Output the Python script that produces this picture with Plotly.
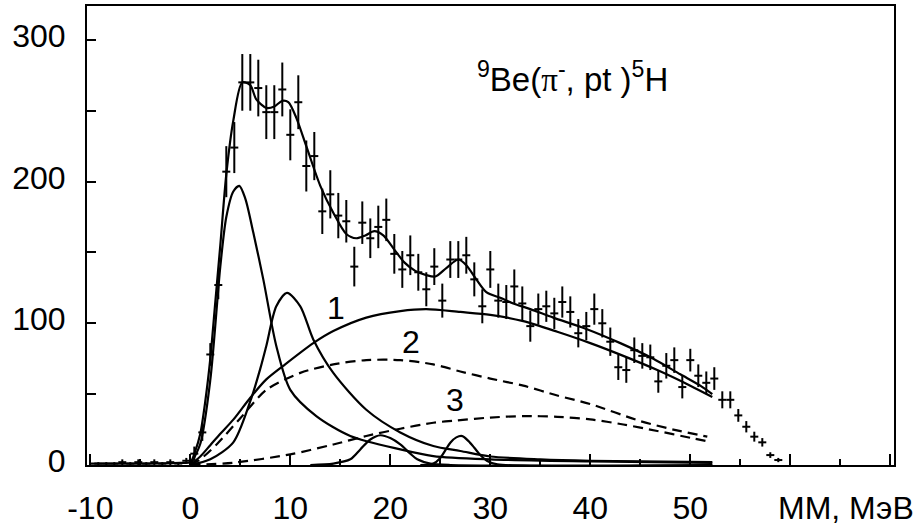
import plotly.graph_objects as go

# ---- measured data (bins of 0.8 MeV) ----
mm_bins = [-9.2, -8.4, -7.6, -6.8, -6.0, -5.2, -4.4, -3.6, -2.8, -2.0, -1.2, -0.4,
           0.4, 1.2, 2.0, 2.8, 3.6, 4.4, 5.2, 6.0, 6.8, 7.6, 8.4, 9.2, 10.0, 10.8,
           11.6, 12.4, 13.2, 14.0, 14.8, 15.6, 16.4, 17.2, 18.0, 18.8, 19.6, 20.4,
           21.2, 22.0, 22.8, 23.6, 24.4, 25.2, 26.0, 26.8, 27.6, 28.4, 29.2, 30.0,
           30.8, 31.6, 32.4, 33.2, 34.0, 34.8, 35.6, 36.4, 37.2, 38.0, 38.8, 39.6,
           40.4, 41.2, 42.0, 42.8, 43.6, 44.4, 45.2, 46.0, 46.8, 47.6, 48.4, 49.2,
           50.0, 50.8, 51.6, 52.4, 53.2, 54.0, 54.8, 55.6, 56.4, 57.2, 58.0, 58.8]
counts = [1, 1, 1, 2, 1, 2, 1, 2, 1, 2, 1, 3,
          8, 23, 78, 127, 207, 224, 270, 270, 266, 249, 249, 265, 233, 256,
          211, 218, 179, 191, 176, 172, 140, 171, 160, 168, 173, 149,
          138, 148, 136, 124, 140, 116, 145, 145, 148, 131, 112, 138,
          116, 115, 126, 114, 98, 110, 112, 107, 115, 108, 93, 98,
          110, 100, 87, 69, 67, 81, 77, 76, 59, 70, 74, 55,
          74, 63, 58, 61, 46, 46, 35, 27, 20, 16, 7, 3.5]
errors = [1, 1, 1, 2, 1, 2, 1, 2, 1, 2, 1, 2,
          5, 6, 8, 10, 18, 18, 20, 20, 20, 19, 19, 19, 18, 19,
          18, 17, 16, 17, 16, 15, 14, 15, 14, 15, 15, 14,
          13, 14, 13, 12, 13, 12, 13, 13, 13, 12, 12, 13,
          12, 12, 12, 12, 11, 11, 11, 11, 11, 11, 10, 10,
          11, 10, 10, 9, 9, 9, 9, 9, 8, 9, 9, 8,
          8, 8, 8, 8, 6, 6, 4.5, 4, 3.5, 3, 2, 1.5]
half_bin = 0.4

# ---- fit curves ----
total_x = [-10, -5, -1, 0, 0.5, 1, 1.5, 2, 2.5, 3, 3.6, 4.3, 5.2, 6, 6.6, 7.6, 8.4, 9.2, 9.8,
           10.6, 11.6, 13.0, 14.3, 15.6, 16.6, 17.5, 18.4, 19.3, 20.4, 21.4, 22.5, 23.6,
           24.5, 25.6, 26.8, 27.6, 28.6, 29.6, 31.0, 32.3, 34.0, 36.3, 39.6, 43.0, 46.3,
           49.0, 51.0, 52.2]
total_y = [1, 1, 1.5, 2, 10, 22, 45, 75, 115, 155, 205, 243, 270, 268, 258, 252, 253, 257, 256,
           245, 225, 197, 178, 163, 160, 162, 165, 162, 152, 143, 137, 134,
           133, 139, 145, 141, 131, 122, 118, 114, 110, 104, 96, 86, 75,
           64, 56, 50]

c1_x = [0, 1, 2, 3, 4.3, 6.0, 7.6, 9.3, 12.3, 14.3, 17.6, 21.0, 23.6, 27.0, 30.0, 33.3,
        36.7, 40.0, 43.3, 46.7, 50.0, 52.2]
c1_y = [0, 6, 14, 22, 32, 47.5, 60.4, 70, 86, 94.5, 104, 108.6, 110, 108, 106, 101.5,
        94, 86, 77, 67, 56, 48]

c2_x = [0, 1, 2.7, 5.0, 7.6, 11.0, 14.3, 17.6, 21.0, 24.3, 27.0, 30, 33.3, 36.7, 40.0,
        45.0, 48.3, 51.7]
c2_y = [0, 4, 15, 33, 53, 65, 71, 74, 74, 71, 66, 61, 56, 49, 43, 31, 25, 20]

c3_x = [0, 4.3, 10, 14.3, 17.6, 21, 24.3, 26.7, 30, 33.3, 36.7, 40, 43.3, 46.7, 50, 51.7]
c3_y = [0, 1.6, 7.5, 14.5, 20.5, 25.6, 29.8, 31.5, 33.5, 34.5, 34, 32.2, 28.6, 24, 19.2, 16.7]

pa_x = [0, 1, 2, 3, 3.6, 4.3, 4.9, 5.5, 6.3, 7.3, 8.6, 10, 12.6, 16, 21, 24.3, 30, 40, 52.2]
pa_y = [0, 15, 60, 140, 175, 193, 197, 188, 164, 131, 84, 53, 34.5, 20.5, 11, 6.3, 4, 2.5, 1.5]

pb_x = [0, 2, 4.3, 6.0, 7.0, 7.6, 8.6, 9.67, 11.0, 12.3, 14.3, 17.6, 21.0, 24.3, 27,
        30, 35, 40, 52.2]
pb_y = [0, 4, 16, 45, 68, 84, 112, 121.5, 112, 88.6, 65, 39, 23, 13.4, 9.9,
        6, 4, 3, 2]

pc_x = [12, 14.3, 16, 17, 18, 19, 20, 21, 22, 22.7, 24, 26, 52.2]
pc_y = [0, 1, 4, 11, 18, 21, 19, 14.5, 8, 4, 1, 0, 0]

pd_x = [23, 24.3, 25, 26.0, 26.6, 27.2, 27.8, 28.4, 29.0, 29.7, 30.7, 52.2]
pd_y = [0, 1, 5, 15.7, 19.5, 20.4, 17, 12.2, 7, 2.8, 0.5, 0]

# ---- labels ----
x_tick_vals = [-10, 0, 10, 20, 30, 40, 50, 60, 70]
x_tick_text = ["-10", "0", "10", "20", "30", "40", "50", "", ""]
y_tick_vals = [0, 100, 200, 300]
y_tick_text = ["0", "100", "200", "300"]
curve_labels = ["1", "2", "3"]
curve_label_x = [14.6, 22.1, 26.5]
curve_label_y = [111, 87, 46]
reaction = ("<sup>9</sup>Be(<span style=\"font-family:Liberation Serif\">π</span>"
            "<sup>-</sup>, pt )<sup>5</sup>H")
axis_title = "ММ, МэВ"

FONT = "Liberation Sans, Arial, sans-serif"
BLACK = "black"
LW = 2.2

fig = go.Figure()

def line(x, y, dash=None):
    fig.add_trace(go.Scatter(x=x, y=y, mode="lines",
                             line=dict(color=BLACK, width=LW, shape="spline",
                                       smoothing=0.8, dash=dash),
                             hoverinfo="skip", showlegend=False))

line(pa_x, pa_y)
line(pb_x, pb_y)
line(pc_x, pc_y)
line(pd_x, pd_y)
line(c1_x, c1_y)
line(c2_x, c2_y, dash="10px,6px")
line(c3_x, c3_y, dash="10px,6px")
line(total_x, total_y)

fig.add_trace(go.Scatter(
    x=mm_bins, y=counts, mode="markers",
    marker=dict(size=1, color=BLACK),
    error_y=dict(type="data", array=errors, visible=True, color=BLACK, thickness=2, width=0),
    error_x=dict(type="constant", value=half_bin, visible=True, color=BLACK, thickness=2, width=0),
    showlegend=False, hoverinfo="skip"))

for t, x, y in zip(curve_labels, curve_label_x, curve_label_y):
    fig.add_annotation(x=x, y=y, text=t, showarrow=False,
                       font=dict(family=FONT, size=32, color=BLACK))

fig.add_annotation(x=28.5, y=274, text=reaction, showarrow=False, xanchor="left",
                   yanchor="middle", font=dict(family=FONT, size=33, color=BLACK))
fig.add_annotation(xref="paper", yref="paper", x=0.941, y=-0.093, text=axis_title,
                   showarrow=False, xanchor="center", yanchor="middle",
                   font=dict(family=FONT, size=32, color=BLACK))

fig.update_layout(
    width=917, height=526,
    margin=dict(l=87, r=23, t=6, b=61, autoexpand=False),
    paper_bgcolor="white", plot_bgcolor="white",
    font=dict(family=FONT, color=BLACK),
    showlegend=False,
)
fig.update_xaxes(
    range=[-10.33, 70.37], tickmode="array", tickvals=x_tick_vals, ticktext=x_tick_text,
    ticks="inside", ticklen=11, tickwidth=2, tickcolor=BLACK,
    minor=dict(tick0=0, dtick=5, ticks="inside", ticklen=6, tickwidth=2, tickcolor=BLACK),
    showline=True, linewidth=2, linecolor=BLACK, mirror=True,
    showgrid=False, zeroline=False, automargin=False,
    tickfont=dict(family=FONT, size=32, color=BLACK), ticklabelstandoff=14,
)
fig.update_yaxes(
    range=[0, 323.9], tickmode="array", tickvals=y_tick_vals, ticktext=y_tick_text,
    ticks="inside", ticklen=9, tickwidth=2, tickcolor=BLACK,
    minor=dict(tick0=0, dtick=50, ticks="inside", ticklen=9, tickwidth=2, tickcolor=BLACK),
    showline=True, linewidth=2, linecolor=BLACK, mirror=True,
    showgrid=False, zeroline=False, automargin=False,
    tickfont=dict(family=FONT, size=32, color=BLACK), ticklabelstandoff=13,
    ticklabelshift=-4,
)

fig.write_html("out.html")
